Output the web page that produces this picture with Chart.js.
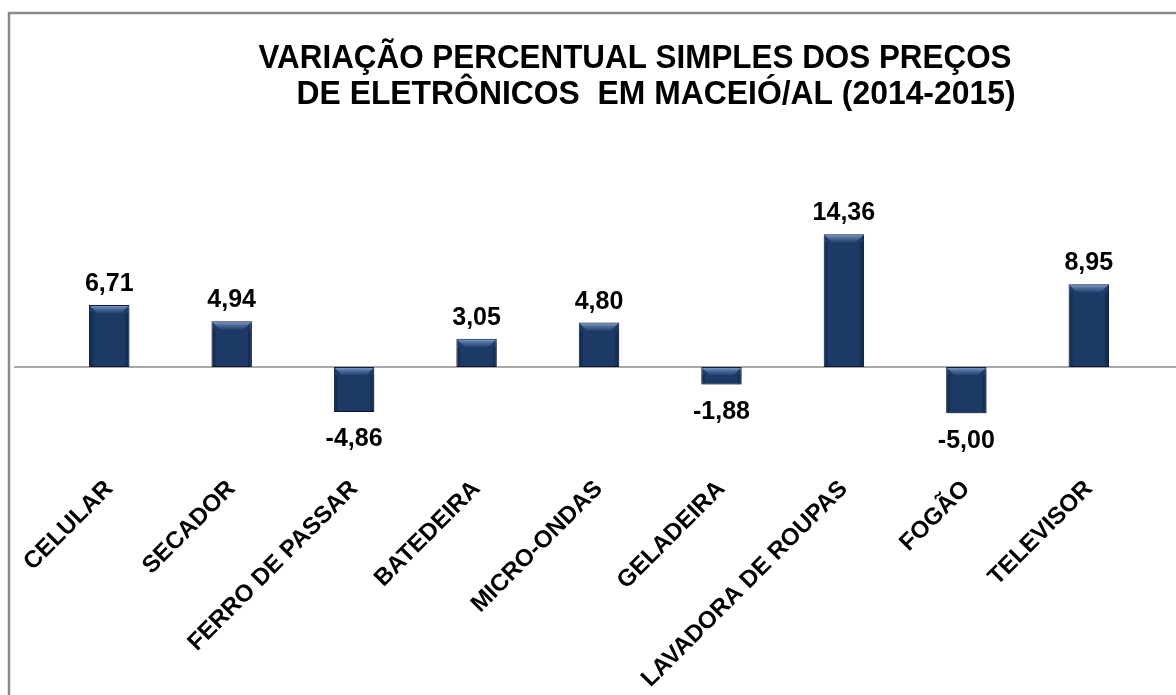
<!DOCTYPE html>
<html>
<head>
<meta charset="utf-8">
<script src="https://cdn.jsdelivr.net/npm/chart.js@4"></script>
<style>
  html, body { margin: 0; padding: 0; background: #fff; }
  #wrap { width: 1176px; height: 695px; position: relative; }
</style>
</head>
<body>
<div id="wrap"><canvas id="chart"></canvas></div>
<script>
const categories = ["CELULAR", "SECADOR", "FERRO DE PASSAR", "BATEDEIRA", "MICRO-ONDAS",
  "GELADEIRA", "LAVADORA DE ROUPAS", "FOGÃO", "TELEVISOR"];
const variacao = [6.71, 4.94, -4.86, 3.05, 4.80, -1.88, 14.36, -5.00, 8.95];
const titleLines = ["VARIAÇÃO PERCENTUAL SIMPLES DOS PREÇOS", "DE ELETRÔNICOS  EM MACEIÓ/AL (2014-2015)"];

/*-----frame, title and zero line-----*/
const framePlugin = {
  id: "frame",
  beforeDraw(chart) {
    const ctx = chart.ctx;
    ctx.save();
    ctx.strokeStyle = "#8a8a8a";
    ctx.lineWidth = 2.5;
    ctx.beginPath();
    ctx.moveTo(9, 695);
    ctx.lineTo(9, 13);
    ctx.lineTo(1176, 13);
    ctx.stroke();

    // title, two lines, squeezed to the original width (narrow look)
    const lines = [
      { text: titleLines[0], cx: 635, base: 68, w: 753 },
      { text: titleLines[1], cx: 656, base: 104, w: 719 },
    ];
    ctx.fillStyle = "#000";
    ctx.textAlign = "center";
    ctx.textBaseline = "alphabetic";
    ctx.font = 'bold 33px "Liberation Sans Narrow", "Liberation Sans", Arial, sans-serif';
    lines.forEach((l) => {
      const m = ctx.measureText(l.text).width;
      ctx.save();
      ctx.translate(l.cx, l.base);
      ctx.scale(l.w / m, 1);
      ctx.fillText(l.text, 0, 0);
      ctx.restore();
    });
    ctx.restore();
  },
  beforeDatasetsDraw(chart) {
    const ctx = chart.ctx;
    const y0 = chart.scales.y.getPixelForValue(0);
    ctx.save();
    ctx.strokeStyle = "#8c8c8c";
    ctx.lineWidth = 1.5;
    ctx.beginPath();
    ctx.moveTo(14, y0);
    ctx.lineTo(chart.width, y0);
    ctx.stroke();
    ctx.restore();
    // soft shadow under the bars
    ctx.save();
    ctx.shadowColor = "rgba(0,0,0,0.35)";
    ctx.shadowBlur = 4;
    ctx.shadowOffsetX = 2;
    ctx.shadowOffsetY = 2;
  },
  afterDatasetsDraw(chart) {
    const ctx = chart.ctx;
    ctx.restore();
    const meta = chart.getDatasetMeta(0);
    ctx.save();
    meta.data.forEach((bar, i) => {
      const v = variacao[i];
      const left = bar.x - bar.width / 2;
      const right = bar.x + bar.width / 2;
      const top = Math.min(bar.y, bar.base);
      const bottom = Math.max(bar.y, bar.base);
      // bevel highlight on top edge
      const bev = 8;
      const g = ctx.createLinearGradient(0, top, 0, top + bev);
      g.addColorStop(0, "rgba(150,180,225,0.9)");
      g.addColorStop(1, "rgba(70,100,150,0.3)");
      ctx.fillStyle = g;
      ctx.beginPath();
      ctx.moveTo(left + 1, top + 1);
      ctx.lineTo(right - 1, top + 1);
      ctx.lineTo(right - bev, top + bev);
      ctx.lineTo(left + bev, top + bev);
      ctx.closePath();
      ctx.fill();
      // darker side bevels
      ctx.fillStyle = "rgba(10,25,50,0.35)";
      ctx.fillRect(left + 1, top + bev, 3, bottom - top - bev - 1);
      ctx.fillRect(right - 4, top + bev, 3, bottom - top - bev - 1);

      // value label
      ctx.fillStyle = "#000";
      ctx.font = 'bold 25px "Liberation Sans", Arial, sans-serif';
      ctx.textAlign = "center";
      const txt = v.toFixed(2).replace(".", ",");
      if (v >= 0) {
        ctx.textBaseline = "alphabetic";
        ctx.fillText(txt, bar.x, bar.y - 14);
      } else {
        ctx.textBaseline = "top";
        ctx.fillText(txt, bar.x, bar.y + 15);
      }
    });
    ctx.restore();
  },
};

new Chart(document.getElementById("chart"), {
  type: "bar",
  data: {
    labels: categories,
    datasets: [
      {
        data: variacao,
        backgroundColor: "#1d3a66",
        borderColor: "#0e2142",
        borderWidth: 1,
        borderSkipped: false,
        categoryPercentage: 1,
        barPercentage: 0.33,
      },
    ],
  },
  options: {
    responsive: true,
    maintainAspectRatio: false,
    animation: false,
    layout: { padding: { left: 48, right: 26, top: 219, bottom: 0 } },
    plugins: {
      legend: { display: false },
      title: { display: false },
      tooltip: { enabled: false },
    },
    scales: {
      x: {
        grid: { display: false, drawTicks: false },
        border: { display: false },
        ticks: {
          autoSkip: false,
          maxRotation: 45,
          minRotation: 45,
          padding: 34,
          color: "#000",
          font: { family: '"Liberation Sans", Arial, sans-serif', size: 24, weight: "bold" },
        },
        afterFit(scale) {
          scale.height = 254;
          scale.paddingLeft = 0;
          scale.paddingRight = 0;
        },
      },
      y: {
        display: false,
        min: -8,
        max: 16,
      },
    },
  },
  plugins: [framePlugin],
});
</script>
</body>
</html>
